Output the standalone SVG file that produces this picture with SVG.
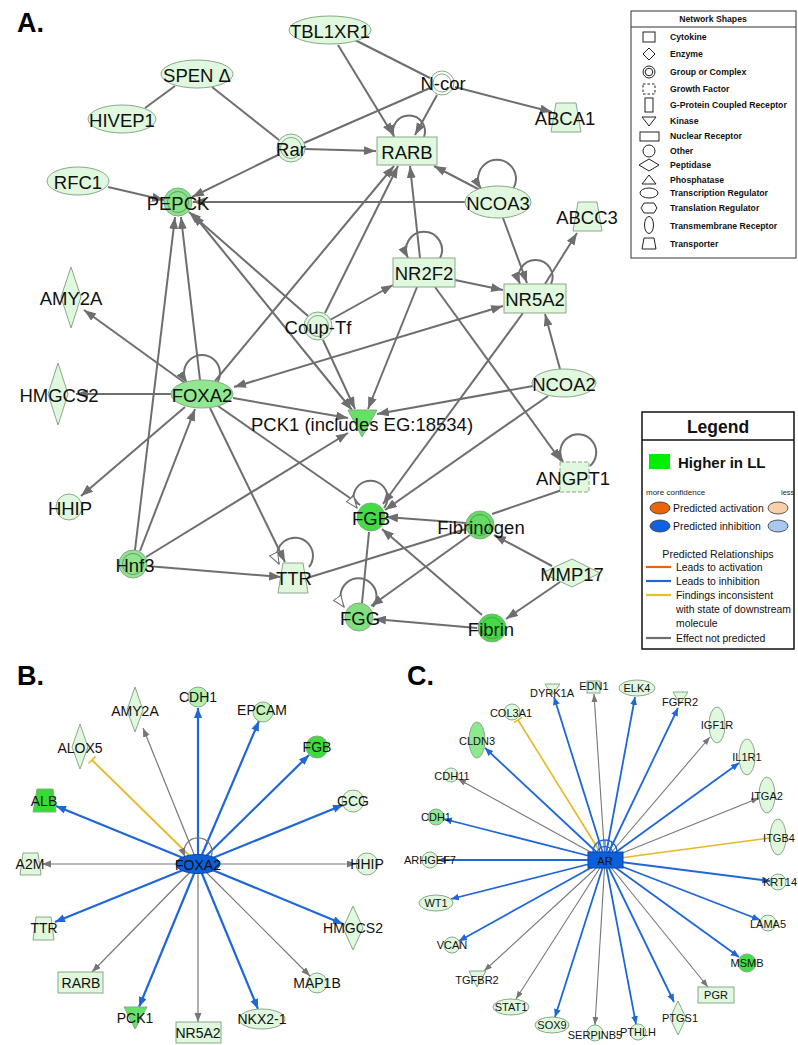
<svg xmlns="http://www.w3.org/2000/svg" width="798" height="1045" viewBox="0 0 798 1045">
<defs>
<style>
.t{font-family:"Liberation Sans",Arial,sans-serif;fill:#111;text-anchor:middle;dominant-baseline:central}
.ta{font-size:18.5px}
.tb{font-size:14px}
.tc{font-size:11px}
.lbl{font-family:"Liberation Sans",Arial,sans-serif;font-weight:bold;font-size:27px;fill:#000}
.n{fill:#e0f8dd;stroke:#8aa88a;stroke-width:1}
.g{fill:none;stroke:#6e6e6e;stroke-width:2}
.gA{fill:none;stroke:#6e6e6e;stroke-width:2;marker-end:url(#arrA)}
.gAA{fill:none;stroke:#6e6e6e;stroke-width:2;marker-end:url(#arrA);marker-start:url(#arrA)}
.gH{fill:none;stroke:#6e6e6e;stroke-width:2;marker-end:url(#arrH)}
.bB{fill:none;stroke:#1f66d9;stroke-width:2.2;marker-end:url(#arrBb)}
.gB{fill:none;stroke:#777;stroke-width:1.2;marker-end:url(#arrBg)}
.yB{fill:none;stroke:#e6b820;stroke-width:1.8;marker-end:url(#tee)}
.bC{fill:none;stroke:#1f66d9;stroke-width:1.8;marker-end:url(#arrCb)}
.gC{fill:none;stroke:#777;stroke-width:1.1;marker-end:url(#arrCg)}
.yC{fill:none;stroke:#e6b820;stroke-width:1.6}
.ls{fill:#fff;stroke:#222;stroke-width:1}
.lt{font-family:"Liberation Sans",Arial,sans-serif;font-weight:bold;font-size:8.7px;fill:#111}
.lg{font-family:"Liberation Sans",Arial,sans-serif;font-size:10.4px;fill:#111}
</style>
<marker id="arrA" markerUnits="userSpaceOnUse" markerWidth="13" markerHeight="10" refX="12" refY="4.5" orient="auto-start-reverse"><path d="M0,0 L12,4.5 L0,9 z" fill="#6e6e6e"/></marker>
<marker id="arrH" markerUnits="userSpaceOnUse" markerWidth="14" markerHeight="11" refX="12" refY="5" orient="auto"><path d="M0.5,0.5 L12,5 L0.5,9.5 z" fill="#fff" stroke="#6e6e6e" stroke-width="1"/></marker>
<marker id="arrBb" markerUnits="userSpaceOnUse" markerWidth="11" markerHeight="9" refX="10" refY="4" orient="auto"><path d="M0,0 L10,4 L0,8 z" fill="#1f66d9"/></marker>
<marker id="arrBg" markerUnits="userSpaceOnUse" markerWidth="10" markerHeight="8" refX="9" refY="3.5" orient="auto"><path d="M0,0 L9,3.5 L0,7 z" fill="#777"/></marker>
<marker id="arrCb" markerUnits="userSpaceOnUse" markerWidth="9" markerHeight="8" refX="8" refY="3.5" orient="auto"><path d="M0,0 L8,3.5 L0,7 z" fill="#1f66d9"/></marker>
<marker id="arrCg" markerUnits="userSpaceOnUse" markerWidth="9" markerHeight="8" refX="8" refY="3" orient="auto"><path d="M0,0 L8,3 L0,6 z" fill="#777"/></marker>
<marker id="tee" markerUnits="userSpaceOnUse" markerWidth="3" markerHeight="10" refX="1.5" refY="5" orient="auto"><path d="M1.5,0 L1.5,10" stroke="#e6b820" stroke-width="1.5"/></marker>
</defs>
<rect width="798" height="1045" fill="#fff"/>

<text class="lbl" x="17" y="32">A.</text>
<text class="lbl" x="17" y="685">B.</text>
<text class="lbl" x="407" y="685">C.</text>

<!-- ===== Panel A connectors ===== -->
<g id="connectors-A">
<path class="g" d="M175,86 L145,108"/>
<path class="g" d="M212,87 L279,140"/>
<path class="gA" d="M338,45 L393,135"/>
<path class="g" d="M355,40 L430,78"/>
<path class="gA" d="M455,87 L552,112"/>
<path class="gA" d="M437,95 L415,135"/>
<path class="g" d="M430,88 L304,143"/>
<path class="gA" d="M305,149 L376,151"/>
<path class="gA" d="M278,155 L192,197"/>
<path class="gA" d="M108,187 L164,200"/>
<path class="gA" d="M466,202 L193,202"/>
<path class="gA" d="M480,190 L434,166"/>
<path class="gA" d="M503,218 L527,283"/>
<path class="gA" d="M420,258 L410,166"/>
<path class="gA" d="M455,280 L503,290"/>
<path class="gA" d="M417,287 L368,409"/>
<path class="gA" d="M435,287 L561,461"/>
<path class="gA" d="M545,284 L577,233"/>
<path class="gA" d="M523,313 L383,504"/>
<path class="gA" d="M560,369 L545,314"/>
<path class="gA" d="M533,386 L377,414"/>
<path class="gA" d="M548,396 L385,510"/>
<path class="gA" d="M330,320 L393,285"/>
<path class="gA" d="M325,313 L398,166"/>
<path class="gA" d="M323,340 L355,409"/>
<path class="gA" d="M308,316 L189,212"/>
<path class="gAA" d="M234,387 L503,306"/>
<path class="gA" d="M215,381 L394,166"/>
<path class="gA" d="M200,380 L181,217"/>
<path class="gA" d="M185,383 L84,310"/>
<path class="gA" d="M171,394 L76,394"/>
<path class="gA" d="M185,407 L81,496"/>
<path class="gA" d="M210,408 L285,562"/>
<path class="gA" d="M218,406 L360,505"/>
<path class="gA" d="M233,398 L348,418"/>
<path class="gAA" d="M193,214 L352,410"/>
<path class="gA" d="M135,550 L175,217"/>
<path class="gA" d="M140,551 L195,409"/>
<path class="gA" d="M146,557 L348,433"/>
<path class="gA" d="M147,566 L281,577"/>
<path class="g" d="M466,529 L307,578"/>
<path class="gA" d="M466,523 L386,517"/>
<path class="gA" d="M470,535 L371,606"/>
<path class="g" d="M562,490 L492,514"/>
<path class="gA" d="M552,566 L494,535"/>
<path class="gA" d="M560,582 L506,619"/>
<path class="gA" d="M482,615 L382,529"/>
<path class="gA" d="M477,628 L374,619"/>
<path class="g" d="M369,532 L362,603"/>
<!-- self loops -->
<path class="gA" d="M424,137 A16,16 0 1 0 394,137"/>
<path class="gA" d="M513,189 A19,19 0 1 0 481,189"/>
<path class="gA" d="M440,258 A18,18 0 1 0 408,258"/>
<path class="gA" d="M551,284 A17,17 0 1 0 520,284"/>
<path class="gA" d="M217,383 A18,18 0 1 0 187,383"/>
<path class="gH" d="M309,567 A18,18 0 1 0 279,564"/>
<path class="gA" d="M590,466 A18,18 0 1 0 563,462"/>
<path class="gH" d="M384,508 A17,17 0 1 0 357,508"/>
<path class="gH" d="M373,607 A18,18 0 1 0 344,607"/>
</g>

<!-- ===== Panel A nodes ===== -->
<g id="TBL1XR1"><ellipse class="n" cx="330" cy="30" rx="41" ry="14"/><text class="t ta" x="330" y="31">TBL1XR1</text></g>
<g id="SPEN"><ellipse class="n" cx="197" cy="74" rx="36" ry="14"/><text class="t ta" x="197" y="75">SPEN Δ</text></g>
<g id="HIVEP1"><ellipse class="n" cx="122" cy="119" rx="34" ry="14"/><text class="t ta" x="122" y="120">HIVEP1</text></g>
<g id="N-cor"><circle class="n" cx="442" cy="83" r="12" fill="#fff" style="fill:#fff"/><circle cx="442" cy="83" r="9" fill="none" stroke="#8aa88a"/><text class="t ta" x="443" y="83">N-cor</text></g>
<g id="ABCA1"><path class="n" d="M556,103 L576,103 L581,132 L551,132 z"/><text class="t ta" x="565" y="118">ABCA1</text></g>
<g id="Rar"><circle class="n" cx="291" cy="148" r="14"/><circle cx="291" cy="148" r="10.5" fill="none" stroke="#8aa88a"/><text class="t ta" x="291" y="149">Rar</text></g>
<g id="RARB"><rect class="n" x="377" y="137" width="60" height="28"/><text class="t ta" x="407" y="152">RARB</text></g>
<g id="RFC1"><ellipse class="n" cx="78" cy="181" rx="31" ry="14"/><text class="t ta" x="78" y="182">RFC1</text></g>
<g id="PEPCK"><circle class="n" cx="178" cy="202" r="14" style="fill:#88e488"/><circle cx="178" cy="202" r="10.5" fill="none" stroke="#6a9a6a"/><text class="t ta" x="178" y="203">PEPCK</text></g>
<g id="NCOA3"><ellipse class="n" cx="498" cy="202" rx="33" ry="16"/><text class="t ta" x="498" y="203">NCOA3</text></g>
<g id="ABCC3"><path class="n" d="M578,202 L597,202 L602,231 L573,231 z"/><text class="t ta" x="587" y="217">ABCC3</text></g>
<g id="NR2F2"><rect class="n" x="393" y="258" width="62" height="29"/><text class="t ta" x="424" y="273">NR2F2</text></g>
<g id="NR5A2"><rect class="n" x="504" y="284" width="62" height="29"/><text class="t ta" x="535" y="299">NR5A2</text></g>
<g id="AMY2A-A"><path class="n" d="M71,267 L81,297 L71,328 L61,297 z"/><text class="t ta" x="71" y="298">AMY2A</text></g>
<g id="Coup-Tf"><circle class="n" cx="318" cy="326" r="14"/><circle cx="318" cy="326" r="10.5" fill="none" stroke="#8aa88a"/><text class="t ta" x="318" y="327">Coup-Tf</text></g>
<g id="HMGCS2-A"><path class="n" d="M58,363 L68,394 L58,425 L48,394 z"/><text class="t ta" x="59" y="395">HMGCS2</text></g>
<g id="FOXA2-A"><ellipse class="n" cx="202" cy="394" rx="31" ry="14" style="fill:#8fe88f"/><text class="t ta" x="202" y="395">FOXA2</text></g>
<g id="NCOA2"><ellipse class="n" cx="564" cy="383" rx="32" ry="14"/><text class="t ta" x="564" y="384">NCOA2</text></g>
<g id="PCK1-A"><path class="n" d="M348,410 L377,410 L362,437 z" style="fill:#66e066"/><text class="t ta" x="362" y="424">PCK1 (includes EG:18534)</text></g>
<g id="ANGPT1"><rect class="n" x="560" y="462" width="29" height="30" style="stroke-dasharray:4,2"/><text class="t ta" x="573" y="478">ANGPT1</text></g>
<g id="HHIP-A"><circle class="n" cx="69" cy="507" r="13"/><text class="t ta" x="70" y="508">HHIP</text></g>
<g id="FGB-A"><circle class="n" cx="371" cy="517" r="14" style="fill:#44dc44"/><text class="t ta" x="371" y="518">FGB</text></g>
<g id="Fibrinogen"><circle class="n" cx="480" cy="525" r="14" style="fill:#66dc66"/><circle cx="480" cy="525" r="10.5" fill="none" stroke="#5a9a5a"/><text class="t ta" x="481" y="527">Fibrinogen</text></g>
<g id="Hnf3"><circle class="n" cx="133" cy="564" r="14" style="fill:#8fe48f"/><circle cx="133" cy="564" r="10.5" fill="none" stroke="#6a9a6a"/><text class="t ta" x="135" y="565">Hnf3</text></g>
<g id="TTR-A"><path class="n" d="M283,563 L303,563 L308,593 L278,593 z"/><text class="t ta" x="294" y="578">TTR</text></g>
<g id="MMP17"><path class="n" d="M542,573 L572,559 L600,573 L572,587 z"/><text class="t ta" x="572" y="574">MMP17</text></g>
<g id="FGG"><circle class="n" cx="359" cy="617" r="14" style="fill:#80e080"/><text class="t ta" x="360" y="618">FGG</text></g>
<g id="Fibrin"><circle class="n" cx="492" cy="628" r="14" style="fill:#44dc44"/><circle cx="492" cy="628" r="10.5" fill="none" stroke="#5a9a5a"/><text class="t ta" x="491" y="629">Fibrin</text></g>

<!-- ===== Network Shapes legend ===== -->
<g id="network-shapes">
<rect x="631" y="11" width="165" height="247" fill="#fff" stroke="#333" stroke-width="1"/>
<line x1="631" y1="27" x2="796" y2="27" stroke="#333"/>
<text class="lt" x="713" y="22" text-anchor="middle">Network Shapes</text>
<rect class="ls" x="643" y="32" width="12" height="10"/><text class="lt" x="670" y="40">Cytokine</text>
<path class="ls" d="M649,48 L655,54 L649,60 L643,54 z"/><text class="lt" x="670" y="57">Enzyme</text>
<circle class="ls" cx="649" cy="72" r="6"/><circle class="ls" cx="649" cy="72" r="3.8"/><text class="lt" x="670" y="75">Group or Complex</text>
<rect class="ls" x="643" y="84" width="12" height="10" stroke-dasharray="2.5,2"/><text class="lt" x="670" y="92">Growth Factor</text>
<rect class="ls" x="645" y="98" width="8" height="14"/><text class="lt" x="670" y="108">G-Protein Coupled Receptor</text>
<path class="ls" d="M642,117 L656,117 L649,126 z"/><text class="lt" x="670" y="124">Kinase</text>
<rect class="ls" x="640" y="132" width="19" height="9"/><text class="lt" x="670" y="139">Nuclear Receptor</text>
<circle class="ls" cx="649" cy="151" r="6"/><text class="lt" x="670" y="154">Other</text>
<path class="ls" d="M639,165 L649,159 L659,165 L649,171 z"/><text class="lt" x="670" y="168">Peptidase</text>
<path class="ls" d="M642,184 L656,184 L649,175 z"/><text class="lt" x="670" y="183">Phosphatase</text>
<ellipse class="ls" cx="649" cy="193" rx="9" ry="5"/><text class="lt" x="670" y="196">Transcription Regulator</text>
<path class="ls" d="M644,203 L654,203 L657,208 L654,213 L644,213 L641,208 z"/><text class="lt" x="670" y="211">Translation Regulator</text>
<ellipse class="ls" cx="649" cy="225" rx="4.5" ry="8.5"/><text class="lt" x="670" y="229">Transmembrane Receptor</text>
<path class="ls" d="M644,238 L654,238 L656,249 L642,249 z"/><text class="lt" x="670" y="247">Transporter</text>
</g>

<!-- ===== Legend ===== -->
<g id="legend">
<rect x="642" y="412" width="152" height="237" fill="#fff" stroke="#111" stroke-width="1.5"/>
<line x1="642" y1="440" x2="794" y2="440" stroke="#111" stroke-width="1.5"/>
<text x="718" y="433" text-anchor="middle" font-family="Liberation Sans,Arial,sans-serif" font-weight="bold" font-size="17.5" fill="#111">Legend</text>
<rect x="649" y="454" width="21" height="15" fill="#00ee00"/>
<text x="678" y="468" font-family="Liberation Sans,Arial,sans-serif" font-weight="bold" font-size="15" fill="#111">Higher in LL</text>
<text x="646" y="495" font-family="Liberation Sans,Arial,sans-serif" font-size="8" fill="#222">more confidence</text>
<text x="781" y="495" font-family="Liberation Sans,Arial,sans-serif" font-size="7.5" fill="#222">less</text>
<ellipse cx="660" cy="508" rx="10" ry="6" fill="#e8650a" stroke="#333" stroke-width="0.8"/>
<text class="lg" x="673" y="512">Predicted activation</text>
<ellipse cx="778" cy="508" rx="10" ry="6" fill="#f8cfa8" stroke="#333" stroke-width="0.8"/>
<ellipse cx="660" cy="526" rx="10" ry="6" fill="#1060e0" stroke="#333" stroke-width="0.8"/>
<text class="lg" x="673" y="530">Predicted inhibition</text>
<ellipse cx="778" cy="526" rx="10" ry="6" fill="#a8c8f0" stroke="#333" stroke-width="0.8"/>
<text class="lg" x="718" y="558" text-anchor="middle" style="font-size:10.6px">Predicted Relationships</text>
<line x1="646" y1="567" x2="671" y2="567" stroke="#e8650a" stroke-width="2.2"/><text class="lg" x="676" y="571">Leads to activation</text>
<line x1="646" y1="581" x2="671" y2="581" stroke="#1f66d9" stroke-width="2.2"/><text class="lg" x="676" y="585">Leads to inhibition</text>
<line x1="646" y1="595" x2="671" y2="595" stroke="#e6c020" stroke-width="2.2"/><text class="lg" x="676" y="599">Findings inconsistent</text>
<text class="lg" x="676" y="613">with state of downstream</text>
<text class="lg" x="676" y="627">molecule</text>
<line x1="646" y1="638" x2="671" y2="638" stroke="#6e6e6e" stroke-width="2.2"/><text class="lg" x="676" y="642">Effect not predicted</text>
</g>

<!-- ===== Panel B connectors ===== -->
<g id="connectors-B">
<path class="bB" d="M198,864 L198,708"/>
<path class="bB" d="M198,864 L259,721"/>
<path class="bB" d="M198,864 L309,755"/>
<path class="bB" d="M198,864 L343,805"/>
<path class="gB" d="M198,864 L356,864"/>
<path class="bB" d="M198,864 L343,924"/>
<path class="gB" d="M198,864 L310,976"/>
<path class="bB" d="M198,864 L258,1009"/>
<path class="gB" d="M198,864 L198,1022"/>
<path class="bB" d="M198,864 L139,1007"/>
<path class="gB" d="M198,864 L92,972"/>
<path class="bB" d="M198,864 L55,922"/>
<path class="gB" d="M198,864 L42,864"/>
<path class="bB" d="M198,864 L56,806"/>
<path class="yB" d="M198,864 L92,760"/>
<path class="gB" d="M198,864 L143,728"/>
<path class="gB" d="M211,857 A14,14 0 1 0 185,857"/>
</g>

<!-- ===== Panel B nodes ===== -->
<g id="B-CDH1"><circle class="n" cx="198" cy="697" r="10" style="fill:#b4f0b0"/><text class="t tb" x="198" y="697">CDH1</text></g>
<g id="B-AMY2A"><path class="n" d="M135,687 L143,710 L135,732 L127,710 z"/><text class="t tb" x="135" y="711">AMY2A</text></g>
<g id="B-EPCAM"><circle class="n" cx="263" cy="712" r="10" style="fill:#c4f4bc"/><text class="t tb" x="262" y="710">EPCAM</text></g>
<g id="B-ALOX5"><path class="n" d="M80,724 L88,747 L80,769 L72,747 z"/><text class="t tb" x="80" y="748">ALOX5</text></g>
<g id="B-FGB"><circle class="n" cx="317" cy="747" r="11" style="fill:#3ddc3d"/><text class="t tb" x="317" y="747">FGB</text></g>
<g id="B-ALB"><path class="n" d="M37,789 L53,789 L56,812 L33,812 z" style="fill:#33dd33"/><text class="t tb" x="44" y="801">ALB</text></g>
<g id="B-GCG"><circle class="n" cx="353" cy="801" r="11"/><text class="t tb" x="353" y="801">GCG</text></g>
<g id="B-A2M"><path class="n" d="M23,853 L38,853 L41,875 L20,875 z"/><text class="t tb" x="30" y="864">A2M</text></g>
<g id="B-HHIP"><circle class="n" cx="367" cy="864" r="11"/><text class="t tb" x="367" y="864">HHIP</text></g>
<g id="B-TTR"><path class="n" d="M36,917 L51,917 L54,940 L33,940 z"/><text class="t tb" x="44" y="928">TTR</text></g>
<g id="B-HMGCS2"><path class="n" d="M353,906 L363,928 L353,950 L343,928 z"/><text class="t tb" x="353" y="928">HMGCS2</text></g>
<g id="B-RARB"><rect class="n" x="58" y="972" width="45" height="21"/><text class="t tb" x="81" y="983">RARB</text></g>
<g id="B-MAP1B"><circle class="n" cx="317" cy="983" r="10"/><text class="t tb" x="317" y="983">MAP1B</text></g>
<g id="B-PCK1"><path class="n" d="M124,1007 L147,1007 L135,1029 z" style="fill:#66e066"/><text class="t tb" x="135" y="1018">PCK1</text></g>
<g id="B-NR5A2"><rect class="n" x="176" y="1022" width="45" height="21"/><text class="t tb" x="198" y="1033">NR5A2</text></g>
<g id="B-NKX2-1"><ellipse class="n" cx="262" cy="1019" rx="23" ry="10"/><text class="t tb" x="262" y="1019">NKX2-1</text></g>
<g id="B-FOXA2"><ellipse cx="198" cy="864" rx="22" ry="9.5" fill="#0b5fd8" stroke="#0a48a8"/><text class="t tb" x="198" y="865">FOXA2</text></g>

<!-- ===== Panel C connectors ===== -->
<g id="connectors-C">
<path class="bC" d="M605,860 L554,697"/>
<path class="gC" d="M605,860 L594,694"/>
<path class="bC" d="M605,860 L635,697"/>
<path class="bC" d="M605,860 L678,708"/>
<path class="yC" d="M605,860 L518,720" marker-end="url(#tee)"/>
<path class="gC" d="M605,860 L710,737"/>
<path class="bC" d="M605,860 L485,748"/>
<path class="bC" d="M605,860 L739,763"/>
<path class="gC" d="M605,860 L458,779"/>
<path class="gC" d="M605,860 L759,798"/>
<path class="bC" d="M605,860 L444,819"/>
<path class="yC" d="M605,860 L770,838"/>
<path class="bC" d="M605,860 L438,860"/>
<path class="bC" d="M605,860 L770,881"/>
<path class="bC" d="M605,860 L451,899"/>
<path class="bC" d="M605,860 L760,920"/>
<path class="bC" d="M605,860 L459,941"/>
<path class="bC" d="M605,860 L739,957"/>
<path class="gC" d="M605,860 L484,971"/>
<path class="gC" d="M605,860 L708,987"/>
<path class="gC" d="M605,860 L516,999"/>
<path class="bC" d="M605,860 L674,1002"/>
<path class="bC" d="M605,860 L555,1017"/>
<path class="gC" d="M605,860 L595,1025"/>
<path class="bC" d="M605,860 L636,1024"/>
<path d="M593,852 A12,12 0 0 1 617,852" fill="none" stroke="#1f66d9" stroke-width="1.4"/>
<path d="M597,852 A9,10 0 0 1 613,852" fill="none" stroke="#1f66d9" stroke-width="1.2"/>
<path d="M605,852 L605,840 M600,852 L598,842 M610,852 L612,842" fill="none" stroke="#1f66d9" stroke-width="1"/>
</g>

<!-- ===== Panel C nodes ===== -->
<g id="C-DYRK1A"><path class="n" d="M545,684 L560,684 L552,695 z"/><text class="t tc" x="552" y="693">DYRK1A</text></g>
<g id="C-EDN1"><rect class="n" x="587" y="681" width="13" height="12"/><text class="t tc" x="594" y="686">EDN1</text></g>
<g id="C-ELK4"><ellipse class="n" cx="637" cy="688" rx="18" ry="8"/><text class="t tc" x="637" y="688">ELK4</text></g>
<g id="C-FGFR2"><path class="n" d="M673,692 L688,692 L680,704 z"/><text class="t tc" x="680" y="702">FGFR2</text></g>
<g id="C-COL3A1"><circle class="n" cx="512" cy="712" r="8"/><text class="t tc" x="511" y="713">COL3A1</text></g>
<g id="C-IGF1R"><ellipse class="n" cx="717" cy="725" rx="8" ry="18"/><text class="t tc" x="717" y="725">IGF1R</text></g>
<g id="C-CLDN3"><ellipse class="n" cx="477" cy="740" rx="8" ry="18" style="fill:#8ee88e"/><text class="t tc" x="477" y="741">CLDN3</text></g>
<g id="C-IL1R1"><ellipse class="n" cx="747" cy="757" rx="8" ry="18"/><text class="t tc" x="747" y="757">IL1R1</text></g>
<g id="C-CDH11"><circle class="n" cx="451" cy="775" r="7"/><text class="t tc" x="452" y="776">CDH11</text></g>
<g id="C-ITGA2"><ellipse class="n" cx="767" cy="795" rx="8" ry="18"/><text class="t tc" x="767" y="796">ITGA2</text></g>
<g id="C-CDH1"><circle class="n" cx="436" cy="817" r="8" style="fill:#8ee88e"/><text class="t tc" x="436" y="817">CDH1</text></g>
<g id="C-ITGB4"><ellipse class="n" cx="778" cy="837" rx="8" ry="18"/><text class="t tc" x="779" y="838">ITGB4</text></g>
<g id="C-ARHGEF7"><circle class="n" cx="430" cy="860" r="8"/><text class="t tc" x="430" y="860">ARHGEF7</text></g>
<g id="C-KRT14"><circle class="n" cx="778" cy="882" r="8"/><text class="t tc" x="780" y="882">KRT14</text></g>
<g id="C-WT1"><ellipse class="n" cx="436" cy="903" rx="17" ry="8"/><text class="t tc" x="436" y="903">WT1</text></g>
<g id="C-LAMA5"><circle class="n" cx="768" cy="923" r="8"/><text class="t tc" x="768" y="924">LAMA5</text></g>
<g id="C-VCAN"><circle class="n" cx="452" cy="945" r="8"/><text class="t tc" x="452" y="945">VCAN</text></g>
<g id="C-MSMB"><circle class="n" cx="747" cy="963" r="9" style="fill:#44dd44"/><text class="t tc" x="747" y="963">MSMB</text></g>
<g id="C-TGFBR2"><path class="n" d="M469,971 L486,971 L477,987 z"/><text class="t tc" x="477" y="980">TGFBR2</text></g>
<g id="C-PGR"><rect class="n" x="698" y="987" width="36" height="16"/><text class="t tc" x="716" y="995">PGR</text></g>
<g id="C-STAT1"><ellipse class="n" cx="511" cy="1007" rx="18" ry="8"/><text class="t tc" x="511" y="1007">STAT1</text></g>
<g id="C-PTGS1"><path class="n" d="M678,1001 L686,1018 L678,1035 L670,1018 z"/><text class="t tc" x="680" y="1018">PTGS1</text></g>
<g id="C-SOX9"><ellipse class="n" cx="552" cy="1025" rx="17" ry="8"/><text class="t tc" x="552" y="1025">SOX9</text></g>
<g id="C-SERPINB5"><circle class="n" cx="595" cy="1033" r="8"/><text class="t tc" x="595" y="1035">SERPINB5</text></g>
<g id="C-PTHLH"><circle class="n" cx="638" cy="1032" r="8"/><text class="t tc" x="638" y="1032">PTHLH</text></g>
<g id="C-AR"><rect x="588" y="852" width="35" height="16" fill="#0b5fd8" stroke="#0a48a8"/><text class="t tc" x="605" y="861">AR</text></g>
</svg>
